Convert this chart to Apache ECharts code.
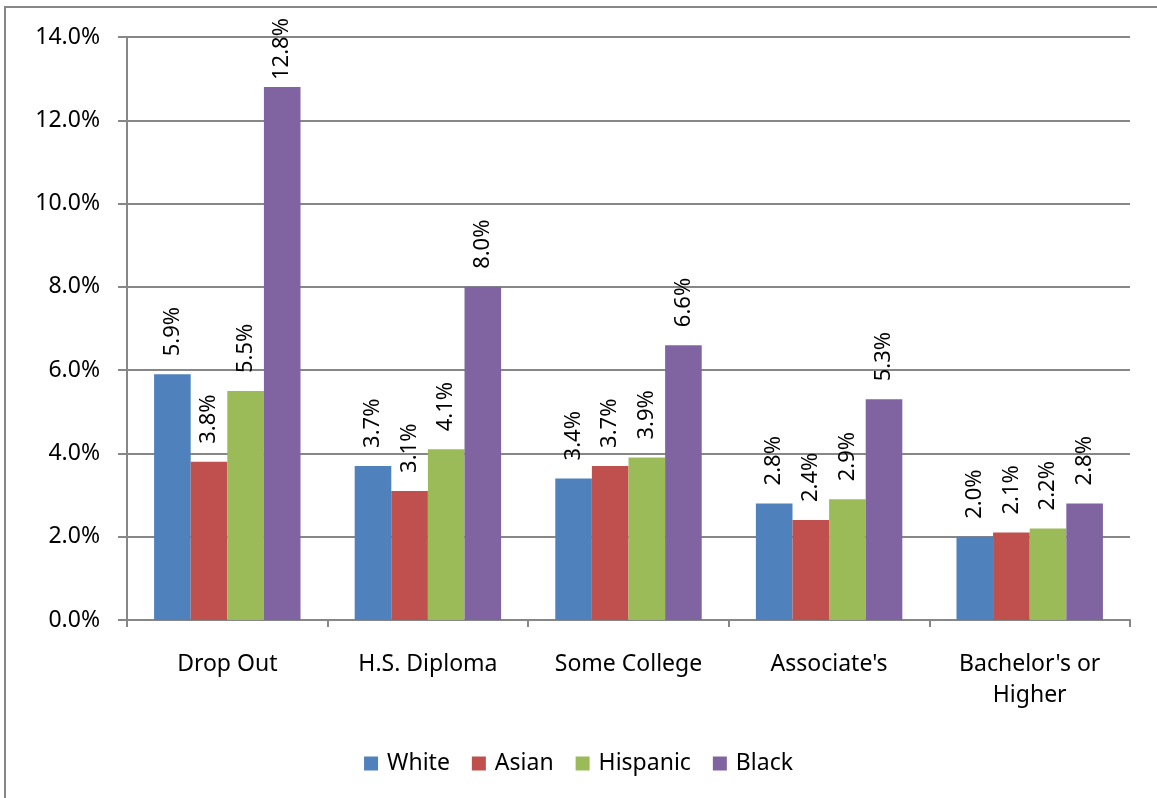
<!DOCTYPE html>
<html>
<head>
<meta charset="utf-8">
<script src="https://cdn.jsdelivr.net/npm/echarts@6/dist/echarts.min.js"></script>
<style>
html,body{margin:0;padding:0;background:#fff;}
#c{width:1157px;height:798px;}
</style>
</head>
<body>
<div id="c"></div>
<script>
const categories = ["Drop Out", "H.S. Diploma", "Some College", "Associate's", "Bachelor's or\nHigher"];
const white = [5.9, 3.7, 3.4, 2.8, 2.0];
const asian = [3.8, 3.1, 3.7, 2.4, 2.1];
const hispanic = [5.5, 4.1, 3.9, 2.9, 2.2];
const black = [12.8, 8.0, 6.6, 5.3, 2.8];
const seriesNames = ["White", "Asian", "Hispanic", "Black"];
const colors = ["#4F81BD", "#C0504D", "#9BBB59", "#8064A2"];

const FONT = "Noto Sans";
const Y_MAX = 14;
const chart = echarts.init(document.getElementById('c'), null, {renderer: 'canvas'});
// labels near the top of the plot sit closer to their bar (as the reference does)
const toData = arr => arr.map(v => v > Y_MAX - 2 ? {value: v, label: {distance: 7}} : v);
const mk = (name, data, color) => ({
  name: name, type: 'bar', data: toData(data),
  itemStyle: {color: color},
  barGap: '0%', barCategoryGap: '27%',
  label: {
    show: true, position: 'top', rotate: 90, align: 'left', verticalAlign: 'middle',
    distance: 18, color: '#000', fontFamily: FONT, fontSize: 22,
    formatter: p => p.value.toFixed(1) + '%'
  }
});
chart.setOption({
  animation: false,
  textStyle: {fontFamily: FONT},
  graphic: [{
    type: 'rect', shape: {x: 5, y: 7, width: 1200, height: 900},
    style: {fill: 'none', stroke: '#878787', lineWidth: 2}, z: -10
  }],
  grid: {left: 127, right: 27, top: 37, bottom: 178, containLabel: false},
  legend: {
    bottom: 18, left: 'center', itemWidth: 14, itemHeight: 14, itemGap: 22,
    icon: 'rect',
    textStyle: {fontFamily: FONT, fontSize: 23, color: '#000', padding: [0, 0, 0, 4]},
    data: seriesNames
  },
  xAxis: {
    type: 'category', data: categories,
    axisLine: {lineStyle: {color: '#878787', width: 2}},
    axisTick: {show: true, length: 7, lineStyle: {color: '#878787', width: 2}},
    axisLabel: {color: '#000', fontFamily: FONT, fontSize: 23, margin: 29, lineHeight: 31, interval: 0}
  },
  yAxis: {
    type: 'value', min: 0, max: Y_MAX, interval: 2,
    axisLine: {show: true, lineStyle: {color: '#878787', width: 2}},
    axisTick: {show: true, length: 9, lineStyle: {color: '#878787', width: 2}},
    splitLine: {lineStyle: {color: '#878787', width: 2}},
    axisLabel: {color: '#000', fontFamily: FONT, fontSize: 23, margin: 27, formatter: v => v.toFixed(1) + '%'}
  },
  series: [
    mk(seriesNames[0], white, colors[0]),
    mk(seriesNames[1], asian, colors[1]),
    mk(seriesNames[2], hispanic, colors[2]),
    mk(seriesNames[3], black, colors[3])
  ]
});
</script>
</body>
</html>
